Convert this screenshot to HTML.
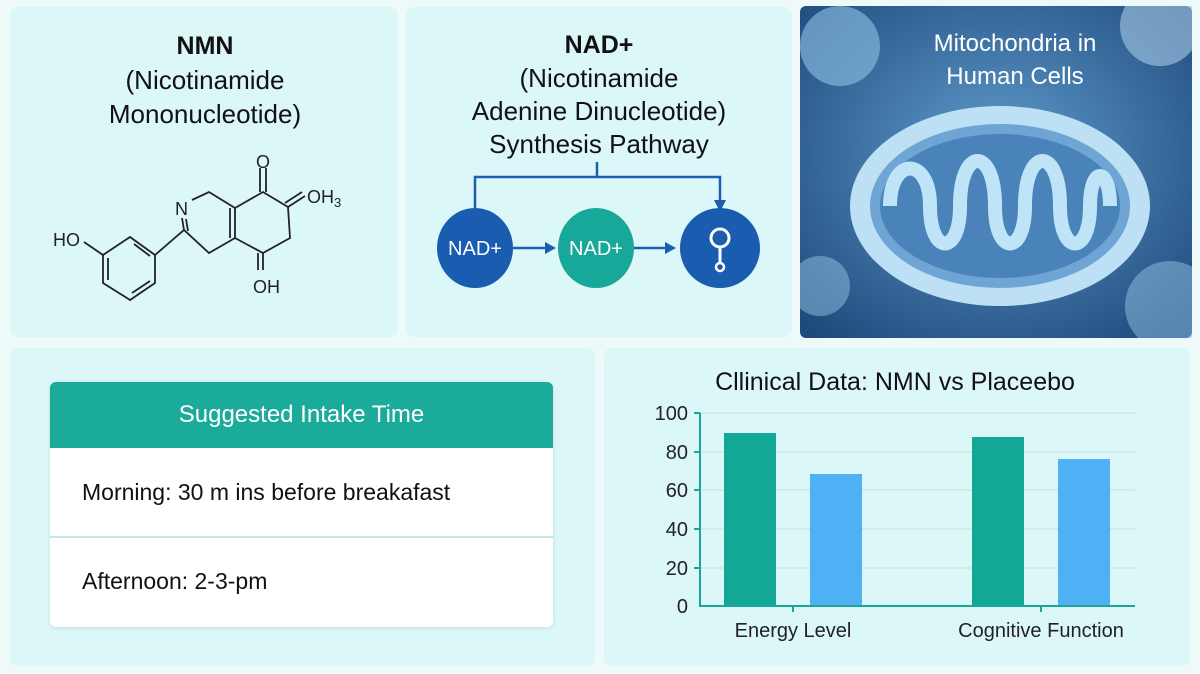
<!DOCTYPE html>
<html><head><meta charset="utf-8"><style>
body{margin:0;width:1200px;height:674px;background:#eefafa;font-family:"Liberation Sans",sans-serif;position:relative;overflow:hidden;color:#111}
.p{position:absolute;background:#dcf7f7;border-radius:8px}
</style></head><body>
<div class="p" style="left:10px;top:7px;width:388px;height:330px"></div>
<div class="p" style="left:406px;top:7px;width:386px;height:330px"></div>
<div class="p" style="left:10px;top:348px;width:585px;height:318px"></div>
<div class="p" style="left:604px;top:348px;width:586px;height:318px"></div>

<div style="position:absolute;left:10px;top:28px;width:390px;text-align:center;font-size:26px;line-height:34px">
<b style="font-size:25px">NMN</b><br>(Nicotinamide<br>Mononucleotide)</div>
<svg style="position:absolute;left:0;top:0" width="400" height="340" font-family="Liberation Sans" font-size="18" fill="none" stroke="#222" stroke-width="1.8">
<text x="53" y="246" fill="#222" stroke="none">HO</text>
<path d="M84 242 L103 255"/>
<path d="M130 237 L155 255 L155 283 L130 300 L103 283 L103 255 Z"/>
<path d="M134 244 L150 256 M150 281 L132 293 M108 258 L108 280"/>
<path d="M155 255 L184 230 L209 253 L235 238 L235 208 L209 192 L192 200 M184 230 L182 218 M188 231 L186 219"/>
<path d="M230 238 L230 208"/>
<path d="M235 208 L263 192 L288 207 L290 238 L263 253 L235 238"/>
<path d="M260 192 L260 168 M266 192 L266 168 M288 207 L305 196 M285 203 L302 192 M263 253 L263 270 M258 253 L258 270"/>
<text x="175" y="215" fill="#222" stroke="none">N</text>
<text x="256" y="168" fill="#222" stroke="none">O</text>
<text x="307" y="203" fill="#222" stroke="none">OH<tspan font-size="13" dy="4">3</tspan></text>
<text x="253" y="293" fill="#222" stroke="none">OH</text>
</svg>

<div style="position:absolute;left:406px;top:28px;width:386px;text-align:center;font-size:26px;line-height:33px">
<b style="font-size:25px">NAD+</b><br>(Nicotinamide<br>Adenine Dinucleotide)<br>Synthesis Pathway</div>
<svg style="position:absolute;left:0;top:0" width="800" height="340" font-family="Liberation Sans" font-size="20">
<path d="M597 162 V177 H475 V210 M475 177 H720 V204" stroke="#1a5fb0" stroke-width="2.5" fill="none"/>
<path d="M714 200 L720 212 L726 200Z" fill="#1a5fb0"/>
<path d="M513 248 H548 M633 248 H668" stroke="#1a5fb0" stroke-width="2.5"/>
<path d="M545 242 L556 248 L545 254Z M665 242 L676 248 L665 254Z" fill="#1a5fb0"/>
<ellipse cx="475" cy="248" rx="38" ry="40" fill="#1a5cb0"/>
<ellipse cx="596" cy="248" rx="38" ry="40" fill="#17a89a"/>
<ellipse cx="720" cy="248" rx="40" ry="40" fill="#1a5cb0"/>
<text x="475" y="255" fill="#fff" text-anchor="middle">NAD+</text>
<text x="596" y="255" fill="#fff" text-anchor="middle">NAD+</text>
<circle cx="720" cy="238" r="9" stroke="#fff" stroke-width="3" fill="none"/>
<path d="M720 247 V262" stroke="#fff" stroke-width="3"/>
<circle cx="720" cy="267" r="4" stroke="#fff" stroke-width="2.5" fill="none"/>
</svg>

<svg style="position:absolute;left:800px;top:6px" width="392" height="332">
<defs><radialGradient id="g" cx="50%" cy="45%" r="70%"><stop offset="0" stop-color="#5f9ccc"/><stop offset="1" stop-color="#1f4a7c"/></radialGradient></defs>
<rect width="392" height="332" rx="6" fill="url(#g)"/>
<circle cx="40" cy="40" r="40" fill="#8fc3e6" opacity=".6"/>
<circle cx="360" cy="20" r="40" fill="#a8cbe8" opacity=".6"/>
<circle cx="370" cy="300" r="45" fill="#8fc3e6" opacity=".5"/>
<circle cx="20" cy="280" r="30" fill="#8fc3e6" opacity=".5"/>
<ellipse cx="200" cy="200" rx="150" ry="100" fill="#bde0f4"/>
<ellipse cx="200" cy="200" rx="130" ry="82" fill="#6ea5d4"/>
<ellipse cx="200" cy="200" rx="120" ry="72" fill="#4a82ba"/>
<path d="M90 200 C90 150 130 150 130 200 C130 250 160 250 160 200 C160 140 195 140 195 200 C195 250 225 250 225 200 C225 140 260 140 260 200 C260 250 290 250 290 200 C290 160 310 160 310 200" stroke="#bfe3f7" stroke-width="14" fill="none"/>
<text x="215" y="45" fill="#fff" font-family="Liberation Sans" font-size="24" text-anchor="middle">Mitochondria in</text>
<text x="215" y="78" fill="#fff" font-family="Liberation Sans" font-size="24" text-anchor="middle">Human Cells</text>
</svg>

<div style="position:absolute;left:50px;top:382px;width:503px;height:245px;background:#fff;border-radius:6px;box-shadow:0 1px 4px rgba(0,0,0,.1)">
<div style="height:66px;background:#1aab9b;border-radius:6px 6px 0 0;color:#fff;font-size:24px;line-height:66px;text-align:center">Suggested Intake Time</div>
<div style="height:88px;border-bottom:2px solid #bfe9e6;font-size:23px;line-height:88px;padding-left:32px">Morning: 30 m ins before breakafast</div>
<div style="font-size:23px;line-height:86px;padding-left:32px">Afternoon: 2-3-pm</div>
</div>

<svg style="position:absolute;left:0;top:0" width="1200" height="674" font-family="Liberation Sans">
<text x="895" y="390" font-size="25" text-anchor="middle" fill="#111">Cllinical Data: NMN vs Placeebo</text>
<g stroke="#c6dcdc" stroke-width="1"><path d="M700 413H1135M700 452H1135M700 490H1135M700 529H1135M700 568H1135"/></g>
<g font-size="20" fill="#222" text-anchor="end"><text x="688" y="420">100</text><text x="688" y="459">80</text><text x="688" y="497">60</text><text x="688" y="536">40</text><text x="688" y="575">20</text><text x="688" y="613">0</text></g>
<rect x="724" y="433" width="52" height="173" fill="#13a896"/>
<rect x="810" y="474" width="52" height="132" fill="#4fb0f5"/>
<rect x="972" y="437" width="52" height="169" fill="#13a896"/>
<rect x="1058" y="459" width="52" height="147" fill="#4fb0f5"/>
<path d="M700 413V606H1135M793 606V612M1041 606V612M694 413H700M694 452H700M694 490H700M694 529H700M694 568H700" stroke="#1aa596" stroke-width="2" fill="none"/>
<text x="793" y="637" font-size="20" text-anchor="middle" fill="#222">Energy Level</text>
<text x="1041" y="637" font-size="20" text-anchor="middle" fill="#222">Cognitive Function</text>
</svg>
</body></html>
